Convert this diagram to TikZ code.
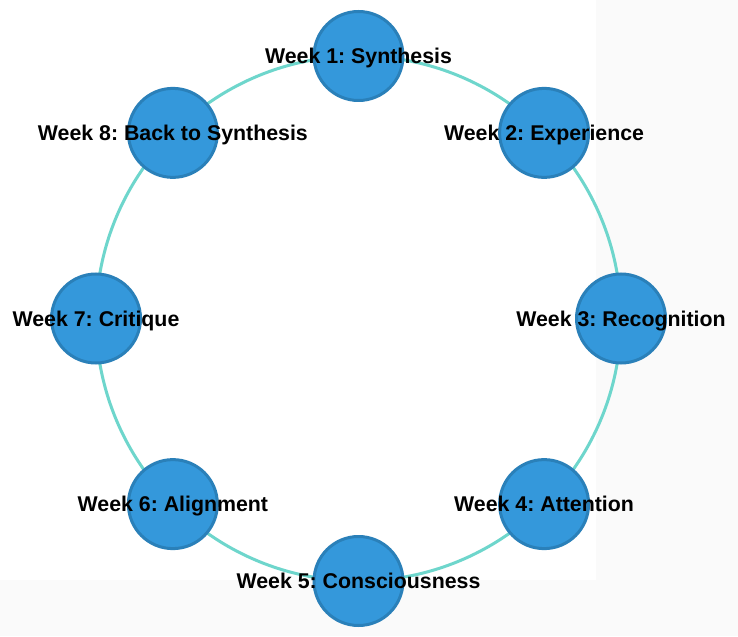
\documentclass[tikz,border=0pt]{standalone}
\usepackage{fontspec}
\setmainfont{Liberation Sans}
\usetikzlibrary{calc}
\definecolor{weekblue}{HTML}{3498DB}
\definecolor{weekedge}{HTML}{2A80B9}
\definecolor{ringteal}{HTML}{6ED6CC}
\definecolor{pagegray}{HTML}{FAFAFA}
\frenchspacing

\begin{document}
\begin{tikzpicture}[x=0.75pt,y=0.75pt,
  week/.style={circle,draw=weekedge,fill=weekblue,line width=2.25pt,minimum size=66.75pt,inner sep=0pt},
  weeklabel/.style={font=\fontsize{16}{19}\selectfont\bfseries,text=black,inner sep=0pt,text height=11.5pt,text depth=0pt},
  ring/.style={draw=ringteal,line width=2.25pt}]
\useasboundingbox (0,0) rectangle (738,636);
\fill[pagegray] (0,0) rectangle (738,636);
\fill[white] (0,56) rectangle (596,636);
\coordinate (ctr) at (358.5,317.5);
\draw[ring] (ctr) circle[radius=262.5];
\foreach \i/\wname in {1/Synthesis,2/Experience,3/Recognition,4/Attention,5/Consciousness,6/Alignment,7/Critique,8/Back to Synthesis} {
  \node[week] (w\i) at ($(ctr)+({90-45*(\i-1)}:262.5)$) {};
  \node[weeklabel] (t\i) at (w\i) {Week \i: \wname};
}
\end{tikzpicture}
\end{document}
